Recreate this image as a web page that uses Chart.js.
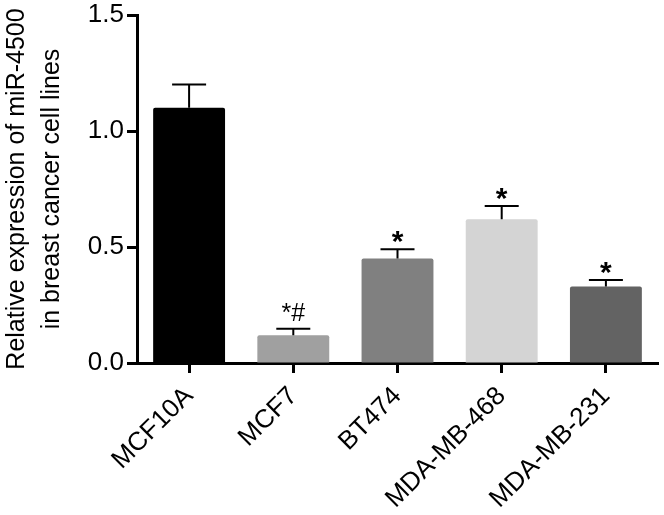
<!DOCTYPE html>
<html>
<head>
<meta charset="utf-8">
<script src="https://cdn.jsdelivr.net/npm/chart.js@4"></script>
<style>
  body { margin: 0; background: #fff; }
  #wrap { width: 664px; height: 515px; position: relative; }
</style>
</head>
<body>
<div id="wrap"><canvas id="chart"></canvas></div>
<script>
const cellLines = ['MCF10A', 'MCF7', 'BT474', 'MDA-MB-468', 'MDA-MB-231'];
const expression = [1.10, 0.12, 0.45, 0.62, 0.33];
const errorUpper = [1.20, 0.148, 0.49, 0.677, 0.358];
const significance = ['', '*#', '*', '*', '*'];
const barColors = ['#000000', '#a0a0a0', '#808080', '#d4d4d4', '#636363'];
const yTicks = [0, 0.5, 1.0, 1.5];

const FONT = '"Liberation Sans", Arial, Helvetica, sans-serif';

// error bar caps and significance marks, drawn from the arrays above
const errorBars = {
    id: 'errorBars',
    afterDatasetsDraw(chart) {
        const ctx = chart.ctx;
        const x = chart.scales.x;
        const y = chart.scales.y;
        ctx.save();
        ctx.strokeStyle = '#000';
        ctx.lineWidth = 2;
        for (let i = 0; i < expression.length; i++) {
            const cx = x.getPixelForValue(i);
            const top = y.getPixelForValue(errorUpper[i]);
            const mid = y.getPixelForValue(expression[i]);
            ctx.beginPath();
            ctx.moveTo(cx, mid);
            ctx.lineTo(cx, top);
            ctx.moveTo(cx - 17, top);
            ctx.lineTo(cx + 17, top);
            ctx.stroke();
            const mark = significance[i];
            if (mark) {
                ctx.fillStyle = '#000';
                ctx.textAlign = 'center';
                ctx.textBaseline = 'alphabetic';
                if (mark === '*') {
                    ctx.font = 'bold 30px ' + FONT;
                    ctx.fillText(mark, cx, top + 2);
                } else {
                    ctx.font = '25px ' + FONT;
                    ctx.fillText(mark, cx, top - 8);
                }
            }
        }
        ctx.restore();
    }
};

new Chart(document.getElementById('chart'), {
    type: 'bar',
    data: {
        labels: cellLines,
        datasets: [{
            data: expression,
            backgroundColor: barColors,
            borderWidth: 0,
            borderRadius: 2,
            categoryPercentage: 0.69,
            barPercentage: 1.0
        }]
    },
    options: {
        responsive: true,
        maintainAspectRatio: false,
        animation: false,
        layout: { padding: { left: 0, right: 6, top: 0, bottom: 0 } },
        plugins: {
            legend: { display: false },
            tooltip: { enabled: false }
        },
        scales: {
            x: {
                offset: true,
                grid: {
                    offset: false,
                    drawOnChartArea: false,
                    drawTicks: true,
                    tickLength: 10,
                    tickWidth: 3,
                    color: '#000'
                },
                border: { display: true, color: '#000', width: 3 },
                ticks: {
                    color: '#000',
                    font: { size: 26, family: FONT },
                    maxRotation: 45,
                    minRotation: 45,
                    padding: 8
                },
                afterFit(scale) { scale.height = 152; }
            },
            y: {
                min: 0,
                max: 1.5,
                afterBuildTicks(scale) {
                    scale.ticks = yTicks.map(v => ({ value: v }));
                },
                grid: {
                    drawOnChartArea: false,
                    drawTicks: true,
                    tickLength: 10,
                    tickWidth: 3,
                    color: '#000'
                },
                border: { display: true, color: '#000', width: 3 },
                ticks: {
                    color: '#000',
                    font: { size: 26, family: FONT },
                    padding: 3,
                    callback: v => v.toFixed(1)
                },
                title: {
                    display: true,
                    text: ['Relative expression of miR-4500', 'in breast cancer cell lines'],
                    color: '#000',
                    font: { size: 25, family: FONT, lineHeight: 1.4 },
                    padding: { top: 0, bottom: 0 }
                },
                afterFit(scale) {
                    scale.width = 137;
                    scale.paddingTop = 15;
                }
            }
        }
    },
    plugins: [errorBars]
});
</script>
</body>
</html>
